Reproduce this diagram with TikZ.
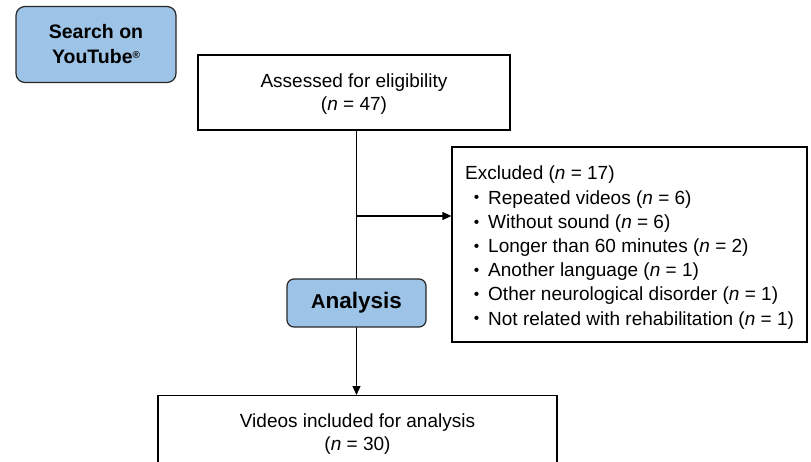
\documentclass[tikz,border=0pt]{standalone}
\usepackage{fontspec}
\setmainfont{Liberation Sans}
\usetikzlibrary{arrows.meta,backgrounds}
\definecolor{boxblue}{RGB}{157,195,230}
\definecolor{edgegray}{RGB}{40,40,40}
\tikzset{
  plainbox/.style={draw=black, line width=1.2pt, fill=white, inner sep=0pt},
  bluebox/.style={draw=edgegray, line width=1.2pt, fill=boxblue, inner sep=0pt, align=center},
  flow/.style={draw=black, line width=1.2pt, -{Triangle[length=9pt,width=8pt]}},
  txt/.style={font=\fontsize{19}{23.5}\selectfont, align=center, inner sep=0pt},
  listtxt/.style={font=\fontsize{19}{24.2}\selectfont, align=left, inner sep=0pt, anchor=north west},
}
\newcommand{\itm}{\makebox[23pt]{\raisebox{1.3pt}{\fontsize{15.5}{15.5}\selectfont •}}}
\begin{document}
\begin{tikzpicture}[x=1pt,y=-1pt]
\useasboundingbox (0,0) rectangle (811,462);
\begin{scope}
\clip (0,0) rectangle (811,462);

% start box
\node[bluebox, rounded corners=9pt, minimum width=160pt, minimum height=76pt,
      font=\bfseries\fontsize{19.5}{25}\selectfont] (search) at (96,44.5)
  {Search on\\YouTube\raisebox{0.55ex}{\fontsize{10}{10}\selectfont ®}};

% screening
\node[plainbox, minimum width=312pt, minimum height=75pt] (assess) at (354,92.5) {};
\node[txt] (assesstxt) at (354,94) {Assessed for eligibility\\(\textit{n} = 47)};

% exclusions
\node[plainbox, minimum width=355pt, minimum height=195pt] (excl) at (629.5,244.5) {};
\node[listtxt] (excltxt) at (465,166)
  {Excluded (\textit{n} = 17)\\
   \itm Repeated videos (\textit{n} = 6)\\
   \itm Without sound (\textit{n} = 6)\\
   \itm Longer than 60 minutes (\textit{n} = 2)\\
   \itm Another language (\textit{n} = 1)\\
   \itm Other neurological disorder (\textit{n} = 1)\\
   \itm Not related with rehabilitation (\textit{n} = 1)};

% included
\node[plainbox, minimum width=399pt, minimum height=100pt, anchor=north] (videos) at (357.5,395) {};
\node[txt] (videostxt) at (357.5,434) {Videos included for analysis\\(\textit{n} = 30)};

% analysis stage label
\node[bluebox, rounded corners=7pt, minimum width=139pt, minimum height=48pt,
      font=\bfseries\fontsize{22.5}{26}\selectfont] (analysis) at (356.5,303)
  {{\fontsize{20}{20}\selectfont A}nalysis};

% connectors
\coordinate (trunk) at (356.5,130);
\coordinate (branch) at (356.5,216);
\begin{pgfonlayer}{background}
\draw[flow] (trunk) -- (trunk |- videos.north);
\draw[flow] (branch) -- (branch -| excl.west);
\end{pgfonlayer}
\end{scope}
\end{tikzpicture}
\end{document}
